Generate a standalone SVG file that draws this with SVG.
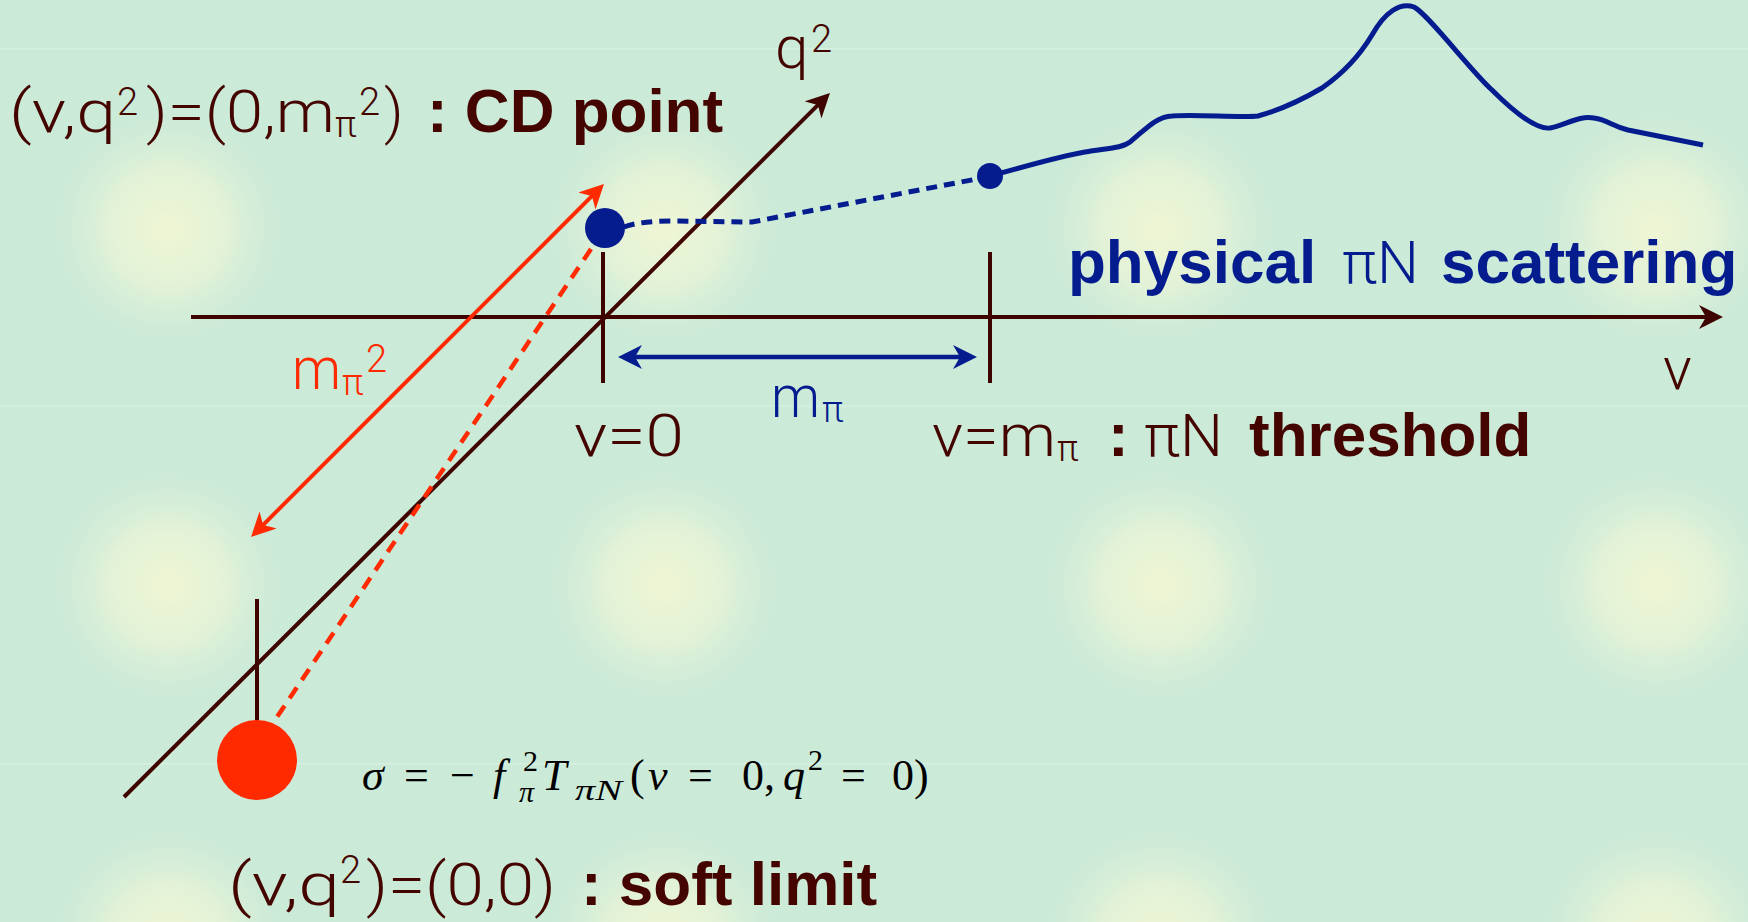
<svg xmlns="http://www.w3.org/2000/svg" width="1748" height="922" viewBox="0 0 1748 922">
<style>
.lt{font-family:Roboto,"Liberation Sans",sans-serif;font-weight:300}
.bd{font-family:"Liberation Sans",Arial,sans-serif;font-weight:700}
.mr{fill:#440500}
.nv{fill:#051c8f}
.rd{fill:#ff2a00}
.m{font-family:"Liberation Serif","Times New Roman",serif;font-size:44px;fill:#000}
.ms{font-size:30px}
.mi{font-style:italic}
.ax{stroke:#400400;stroke-width:4;fill:none}
</style>
<defs>
<radialGradient id="glow" cx="0.5" cy="0.5" r="0.5">
<stop offset="0" stop-color="#eff6d4"/>
<stop offset="0.45" stop-color="#e3f2d7"/>
<stop offset="1" stop-color="#cbead8" stop-opacity="0"/>
</radialGradient>
<pattern id="bg" patternUnits="userSpaceOnUse" x="-82" y="48" width="496" height="357.5">
<rect width="496" height="357.5" fill="#cbead8"/>
<circle cx="250" cy="180" r="130" fill="url(#glow)"/>
<line x1="0" y1="0.5" x2="496" y2="0.5" stroke="#d8f0e2" stroke-width="2"/>
</pattern>
<marker id="ah-br" markerUnits="userSpaceOnUse" markerWidth="26" markerHeight="26" refX="16" refY="12" orient="auto-start-reverse"><path d="M0,0 L24,12 L0,24 L7,12 Z" fill="#400400"/></marker>
<marker id="ah-rd" markerUnits="userSpaceOnUse" markerWidth="26" markerHeight="26" refX="16" refY="12" orient="auto-start-reverse"><path d="M0,0 L24,12 L0,24 L7,12 Z" fill="#ff2a00"/></marker>
<marker id="ah-bl" markerUnits="userSpaceOnUse" markerWidth="26" markerHeight="26" refX="16" refY="12" orient="auto-start-reverse"><path d="M0,0 L24,12 L0,24 L7,12 Z" fill="#051c8f"/></marker>
</defs>
<rect width="1748" height="922" fill="url(#bg)"/>

<g id="connectors">
<line class="ax" x1="191" y1="317" x2="1715" y2="317" marker-end="url(#ah-br)"/>
<line class="ax" x1="124" y1="797" x2="824.3" y2="98.6" marker-end="url(#ah-br)"/>
<line class="ax" x1="603" y1="252" x2="603" y2="383"/>
<line class="ax" x1="990" y1="252" x2="990" y2="383"/>
<line class="ax" x1="257" y1="599" x2="257" y2="722"/>
<line x1="256.7" y1="531.3" x2="598.3" y2="189.7" stroke="#ff2a00" stroke-width="4" marker-start="url(#ah-rd)" marker-end="url(#ah-rd)"/>
<line x1="591" y1="249" x2="275" y2="720" stroke="#ff2a00" stroke-width="4.5" stroke-dasharray="13 9"/>
<line x1="626" y1="357" x2="969" y2="357" stroke="#051c8f" stroke-width="4.5" marker-start="url(#ah-bl)" marker-end="url(#ah-bl)"/>
<path d="M624 227 Q640 221 672 221 L752 222 L982 178" fill="none" stroke="#051c8f" stroke-width="5" stroke-dasharray="11 7"/>
<path d="M990 176 C1020 168 1060 156 1085 152 C1110 148 1122 148 1130 142 C1145 130 1155 117 1172 116 C1195 114 1240 118 1258 116 C1280 110 1305 98 1322 88 C1345 72 1360 55 1372 35 C1385 12 1400 2 1414 7 C1428 14 1470 70 1492 90 C1510 108 1535 130 1550 128 C1565 125 1580 115 1594 118 C1608 120 1612 126 1628 130 L1703 145" fill="none" stroke="#051c8f" stroke-width="5" stroke-linejoin="round"/>
</g>

<g id="cd-point">
<circle cx="605" cy="228" r="20" fill="#051c8f"/>
<text class="lt mr" font-size="60" x="9" y="132" textLength="107" lengthAdjust="spacingAndGlyphs">(ν,q</text>
<text class="lt mr" font-size="38" x="117" y="115">2</text>
<text class="lt mr" font-size="60" x="146" y="132" textLength="189" lengthAdjust="spacingAndGlyphs">)=(0,m</text>
<text class="lt mr" font-size="36" x="335" y="137">π</text>
<text class="lt mr" font-size="38" x="359" y="115">2</text>
<text class="lt mr" font-size="60" x="384" y="132">)</text>
<text class="bd mr" font-size="62" x="427" y="132">: CD point</text>
</g>

<g id="threshold">
<circle cx="990" cy="176" r="13" fill="#051c8f"/>
<text class="lt mr" font-size="60" x="932" y="456" textLength="124" lengthAdjust="spacingAndGlyphs">ν=m</text>
<text class="lt mr" font-size="36" x="1057" y="461">π</text>
<text class="bd mr" font-size="62" x="1108" y="456">:</text>
<text class="lt mr" font-size="60" x="1144" y="456" textLength="79" lengthAdjust="spacingAndGlyphs">πN</text>
<text class="bd mr" font-size="62" x="1249" y="456">threshold</text>
</g>

<g id="origin">
<text class="lt mr" font-size="60" x="574" y="456" textLength="110" lengthAdjust="spacingAndGlyphs">ν=0</text>
</g>

<g id="soft-limit">
<circle cx="257" cy="760" r="40" fill="#ff2a00"/>
<text class="lt mr" font-size="60" x="228" y="905" textLength="112" lengthAdjust="spacingAndGlyphs">(ν,q</text>
<text class="lt mr" font-size="38" x="340" y="883">2</text>
<text class="lt mr" font-size="60" x="366" y="905" textLength="190" lengthAdjust="spacingAndGlyphs">)=(0,0)</text>
<text class="bd mr" font-size="62" x="581" y="905">: soft limit</text>
</g>

<g id="physical">
<text class="bd nv" font-size="62" x="1068" y="283">physical</text>
<text class="lt nv" font-size="60" x="1342" y="283" textLength="77" lengthAdjust="spacingAndGlyphs">πN</text>
<text class="bd nv" font-size="62" x="1441" y="283">scattering</text>
</g>

<g id="axis-labels">
<text class="lt mr" font-size="60" x="775" y="68">q</text>
<text class="lt mr" font-size="38" x="811" y="52">2</text>
<text class="lt mr" font-size="60" x="1663" y="389">ν</text>
</g>

<g id="dist-labels">
<text class="lt rd" font-size="60" x="292" y="389" textLength="49" lengthAdjust="spacingAndGlyphs">m</text>
<text class="lt rd" font-size="36" x="342" y="395">π</text>
<text class="lt rd" font-size="38" x="366" y="372">2</text>
<text class="lt nv" font-size="60" x="771" y="417" textLength="49" lengthAdjust="spacingAndGlyphs">m</text>
<text class="lt nv" font-size="36" x="822" y="422">π</text>
</g>

<g id="formula">
<text class="m" y="790"><tspan class="mi" x="362">σ</tspan><tspan x="404">=</tspan><tspan x="450">−</tspan><tspan class="mi" x="493">f</tspan><tspan class="ms" x="523" y="771">2</tspan><tspan class="mi ms" x="519" y="802">π</tspan><tspan class="mi" x="542" y="790">T</tspan><tspan class="mi ms" x="575" y="800" textLength="47" lengthAdjust="spacingAndGlyphs">πN</tspan><tspan x="630" y="790">(</tspan><tspan class="mi" x="648">ν</tspan><tspan x="688">=</tspan><tspan x="742">0,</tspan><tspan class="mi" x="783">q</tspan><tspan class="ms" x="808" y="770">2</tspan><tspan x="841" y="790">=</tspan><tspan x="892">0)</tspan></text>
</g>
</svg>
